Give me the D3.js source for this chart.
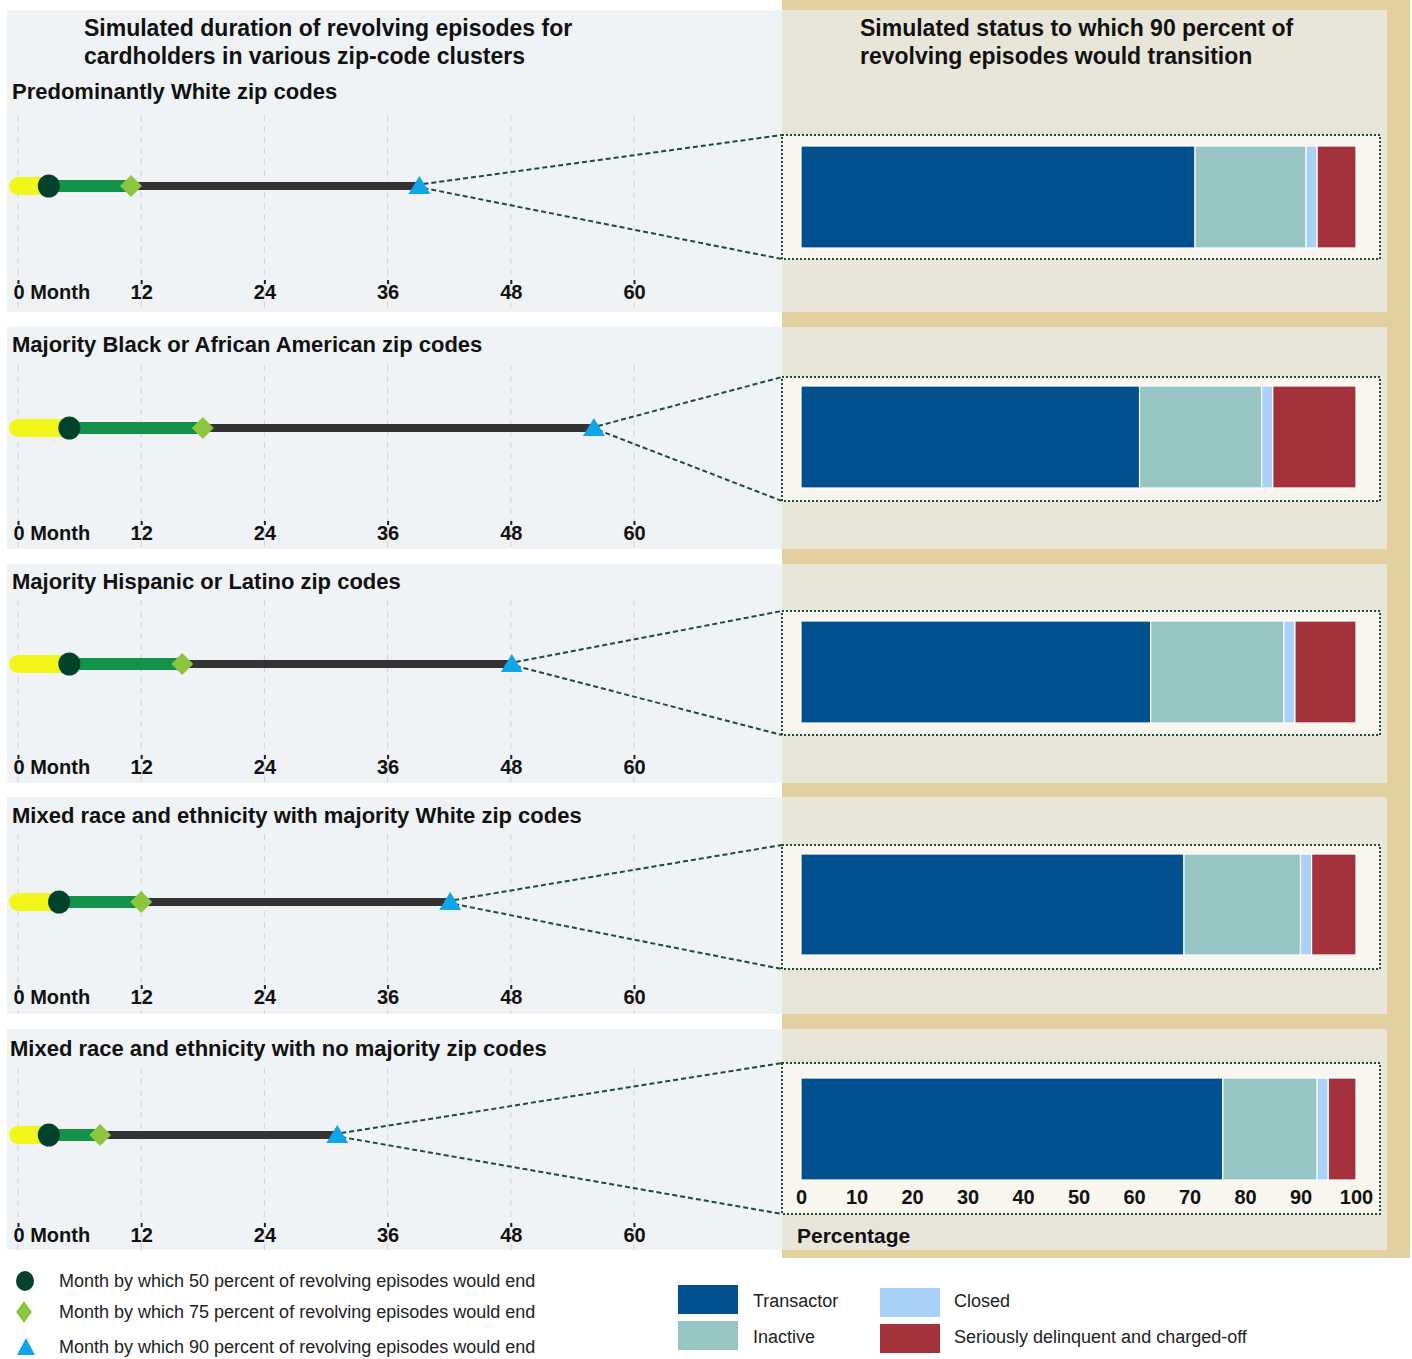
<!DOCTYPE html>
<html><head><meta charset="utf-8">
<script src="https://cdn.jsdelivr.net/npm/d3@7"></script>
<style>
body{margin:0;background:#fff;}
text{font-family:"Liberation Sans",Arial,Helvetica,sans-serif;}
</style></head>
<body><svg id="chart" width="1412" height="1359"></svg>
<script>
// ---- data ----
const groups = [
  "Predominantly White zip codes",
  "Majority Black or African American zip codes",
  "Majority Hispanic or Latino zip codes",
  "Mixed race and ethnicity with majority White zip codes",
  "Mixed race and ethnicity with no majority zip codes"
];
const p50 = [3, 5, 5, 4, 3];
const p75 = [11, 18, 16, 12, 8];
const p90 = [39, 56, 48, 42, 31];
const statuses = ["Transactor", "Inactive", "Closed", "Seriously delinquent and charged-off"];
const transactor = [71, 61, 63, 69, 76];
const inactive   = [20, 22, 24, 21, 17];
const closed     = [2, 2, 2, 2, 2];
const delinquent = [7, 15, 11, 8, 5];
const monthTicks = [0, 12, 24, 36, 48, 60];
const pctTicks = [0, 10, 20, 30, 40, 50, 60, 70, 80, 90, 100];
const markerLabels = [
  "Month by which 50 percent of revolving episodes would end",
  "Month by which 75 percent of revolving episodes would end",
  "Month by which 90 percent of revolving episodes would end"
];
const leftTitle = ["Simulated duration of revolving episodes for", "cardholders in various zip-code clusters"];
const rightTitle = ["Simulated status to which 90 percent of", "revolving episodes would transition"];

// ---- layout (positions only) ----
const rows = [
  {top:10,  bot:312,  title:91,   line:186,  tick:293,  grid0:115, boxT:135,  boxB:259,  barT:146,  barB:248, tx:12},
  {top:327, bot:549,  title:344,  line:428,  tick:534,  grid0:365, boxT:377,  boxB:501,  barT:386,  barB:488, tx:12},
  {top:564, bot:783,  title:581,  line:664,  tick:768,  grid0:600, boxT:611,  boxB:735,  barT:621,  barB:723, tx:12},
  {top:797, bot:1014, title:815,  line:902,  tick:998,  grid0:834, boxT:845,  boxB:969,  barT:854,  barB:955, tx:12},
  {top:1029,bot:1250, title:1048, line:1135, tick:1236, grid0:1068,boxT:1063, boxB:1214, barT:1078, barB:1180, tx:10}
];
const C = {
  leftBg:"#eff3f6", rightBg:"#e8e6d9", tan:"#e2d19f", boxFill:"#f8f6ef", boxStroke:"#1b4d3a",
  yellow:"#f2f719", green:"#139349", dark:"#333333", circle:"#03422a", diamond:"#8cc63f", tri:"#10a5e8",
  grid:"#cdd2d6", seg:["#03508f","#97c5c3","#aad1f8","#a3323c"]
};

const svg = d3.select("#chart");
const x = d3.scaleLinear().domain([0, 60]).range([18, 634]);
const xp = d3.scaleLinear().domain([0, 100]).range([801, 1356]);
const segData = [transactor, inactive, closed, delinquent];

// backgrounds
svg.append("rect").attr("x",782).attr("y",0).attr("width",628).attr("height",1258).attr("fill",C.tan);
rows.forEach((r,i) => {
  const t = r.top, b = r.bot;
  svg.append("rect").attr("x",7).attr("y",t).attr("width",775).attr("height",b-t).attr("fill",C.leftBg);
  svg.append("rect").attr("x",782).attr("y",t).attr("width",605).attr("height",b-t).attr("fill",C.rightBg);
});

// titles
const tt = svg.append("text").attr("font-weight","bold").attr("font-size",23).attr("fill","#111");
leftTitle.forEach((s,i)=>tt.append("tspan").attr("x",84).attr("y",36+i*28).text(s));
const rt = svg.append("text").attr("font-weight","bold").attr("font-size",23).attr("fill","#111");
rightTitle.forEach((s,i)=>rt.append("tspan").attr("x",860).attr("y",36+i*28).text(s));

const sym = (type, size) => d3.symbol().type(type).size(size)();

rows.forEach((r,i) => {
  const g = svg.append("g");
  // row title
  g.append("text").attr("x",r.tx).attr("y",r.title+8).attr("font-weight","bold").attr("font-size",22)
    .attr("fill","#111").text(groups[i]);
  // grid
  g.selectAll("line.grid").data(monthTicks).join("line")
    .attr("x1",d=>x(d)).attr("x2",d=>x(d)).attr("y1",r.grid0).attr("y2",r.bot)
    .attr("stroke",C.grid).attr("stroke-width",1).attr("stroke-dasharray","6,5");
  // axis
  const ax = g.append("g").attr("transform",`translate(0,${r.tick-13})`)
    .call(d3.axisBottom(x).tickValues(monthTicks).tickSize(4).tickPadding(1)
      .tickFormat(d => d === 0 ? "0 Month" : d));
  ax.select(".domain").remove();
  ax.selectAll(".tick line").attr("stroke","#222").attr("stroke-width",2);
  ax.selectAll(".tick text").attr("font-size",20).attr("font-weight","bold").attr("fill","#111")
    .attr("font-family","'Liberation Sans',Arial,sans-serif")
    .filter(d=>d===0).attr("text-anchor","start").attr("dx",-5);
  // lines
  g.append("line").attr("x1",x(0)).attr("x2",x(p50[i])).attr("y1",r.line).attr("y2",r.line)
    .attr("stroke",C.yellow).attr("stroke-width",18).attr("stroke-linecap","round");
  g.append("line").attr("x1",x(p50[i])).attr("x2",x(p75[i])).attr("y1",r.line).attr("y2",r.line)
    .attr("stroke",C.green).attr("stroke-width",12);
  g.append("line").attr("x1",x(p75[i])).attr("x2",x(p90[i])).attr("y1",r.line).attr("y2",r.line)
    .attr("stroke",C.dark).attr("stroke-width",8);
  // connector dashed lines
  const tx0 = x(p90[i]) + 5;
  g.append("line").attr("x1",tx0).attr("y1",r.line-2).attr("x2",782).attr("y2",r.boxT)
    .attr("stroke",C.boxStroke).attr("stroke-width",2).attr("stroke-dasharray","5,3");
  g.append("line").attr("x1",tx0).attr("y1",r.line+2).attr("x2",782).attr("y2",r.boxB)
    .attr("stroke",C.boxStroke).attr("stroke-width",2).attr("stroke-dasharray","5,3");
  // markers
  g.append("ellipse").attr("cx",x(p50[i])).attr("cy",r.line).attr("rx",11).attr("ry",11.5).attr("fill",C.circle);
  g.append("path").attr("d",sym(d3.symbolSquare, 240)).attr("fill",C.diamond)
    .attr("transform",`translate(${x(p75[i])},${r.line}) rotate(45)`);
  g.append("path").attr("d","M0,-9 L11,9 L-11,9 Z").attr("fill",C.tri)
    .attr("transform",`translate(${x(p90[i])+1},${r.line-1})`);

  // right box
  g.append("rect").attr("x",782).attr("y",r.boxT).attr("width",598).attr("height",r.boxB-r.boxT)
    .attr("fill",C.boxFill).attr("stroke",C.boxStroke).attr("stroke-width",2).attr("stroke-dasharray","2,2");
  let cum = 0;
  const segs = segData.map((arr,k)=>{ const s={k,x0:cum,x1:cum+arr[i]}; cum+=arr[i]; return s; });
  g.selectAll("rect.seg").data(segs).join("rect")
    .attr("x",d=>xp(d.x0)).attr("width",d=>xp(d.x1)-xp(d.x0))
    .attr("y",r.barT).attr("height",r.barB-r.barT)
    .attr("fill",d=>C.seg[d.k]).attr("stroke","#fff").attr("stroke-width",1.2);
});

// percentage axis
const pax = svg.append("g").attr("transform","translate(0,1190)")
  .call(d3.axisBottom(xp).tickValues(pctTicks).tickSize(0).tickPadding(0));
pax.select(".domain").remove();
pax.selectAll(".tick text").attr("font-size",20).attr("font-weight","bold").attr("fill","#111")
  .attr("font-family","'Liberation Sans',Arial,sans-serif").attr("dy","0.71em");
svg.append("text").attr("x",797).attr("y",1243).attr("font-weight","bold").attr("font-size",21)
  .attr("fill","#111").text("Percentage");

// marker legend
const ml = [1281, 1312, 1347];
svg.append("ellipse").attr("cx",25).attr("cy",ml[0]).attr("rx",9).attr("ry",10).attr("fill",C.circle);
svg.append("path").attr("d","M0,-11 L8,0 L0,11 L-8,0 Z").attr("fill",C.diamond).attr("transform",`translate(24,${ml[1]})`);
svg.append("path").attr("d","M0,-9 L9,8 L-9,8 Z").attr("fill",C.tri).attr("transform",`translate(26,${ml[2]})`);
markerLabels.forEach((s,k)=>{
  svg.append("text").attr("x",59).attr("y",ml[k]+6).attr("font-size",18).attr("fill","#222").text(s);
});

// status legend
const sl = [
  {x:678, y:1285, tx:753, ty:1301},
  {x:678, y:1321, tx:753, ty:1337},
  {x:880, y:1288, tx:954, ty:1301},
  {x:880, y:1324, tx:954, ty:1337}
];
statuses.forEach((s,k)=>{
  svg.append("rect").attr("x",sl[k].x).attr("y",sl[k].y).attr("width",60).attr("height",29).attr("fill",C.seg[k]);
  svg.append("text").attr("x",sl[k].tx).attr("y",sl[k].ty+6).attr("font-size",18).attr("fill","#222").text(s);
});
</script></body></html>
